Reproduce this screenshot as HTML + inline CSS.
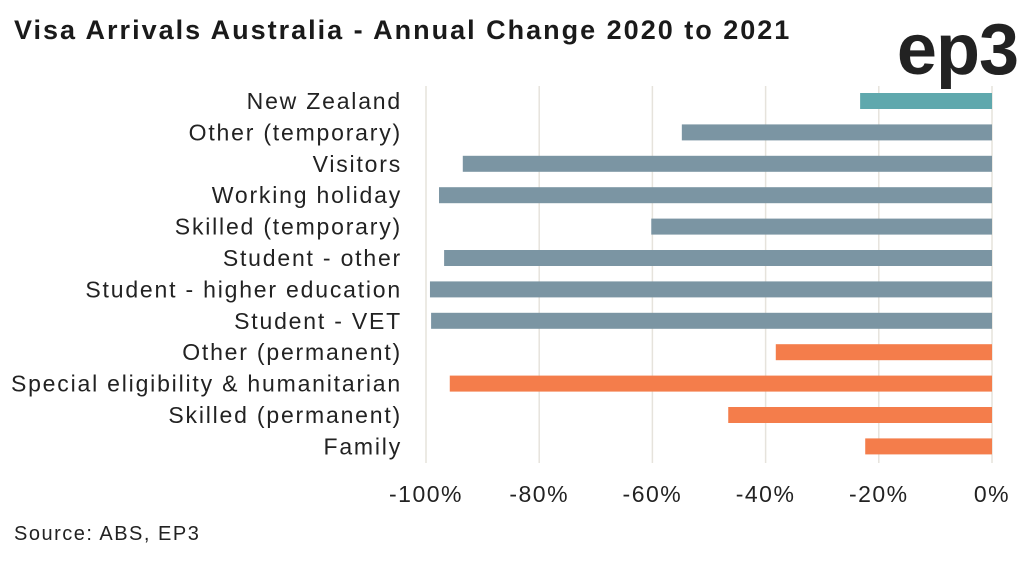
<!DOCTYPE html>
<html><head><meta charset="utf-8"><style>
body{margin:0;background:#fff;width:1025px;height:558px;overflow:hidden;font-family:"Liberation Sans",sans-serif;}
</style></head><body>
<svg width="1025" height="558">
<text x="14" y="39" font-size="27" font-weight="bold" letter-spacing="2" fill="#1a1a1a">Visa Arrivals Australia - Annual Change 2020 to 2021</text>
<text x="1018" y="74" text-anchor="end" font-size="72" font-weight="bold" fill="#222" letter-spacing="-1">ep3</text>
<g id="grid"></g><g id="bars"></g><g id="labels"></g><g id="ticks"></g>
<text x="14" y="540" font-size="20" letter-spacing="1.5" fill="#222">Source: ABS, EP3</text>
</svg>
<script>
const categories=["New Zealand","Other (temporary)","Visitors","Working holiday","Skilled (temporary)","Student - other","Student - higher education","Student - VET","Other (permanent)","Special eligibility & humanitarian","Skilled (permanent)","Family"];
const values=[-23.3,-54.8,-93.5,-97.7,-60.2,-96.8,-99.3,-99.1,-38.2,-95.8,-46.6,-22.4];
const groups=["nz","temp","temp","temp","temp","temp","temp","temp","perm","perm","perm","perm"];
const ticks=[-100,-80,-60,-40,-20,0];
const colors={nz:"#5fa8ad",temp:"#7b95a3",perm:"#f47d4b"};
const x=v=>992+v*5.66, y=i=>101+i*31.4;
const ns="http://www.w3.org/2000/svg";
function mk(t,a,p){const e=document.createElementNS(ns,t);for(const k in a)e.setAttribute(k,a[k]);document.getElementById(p).appendChild(e);return e;}
ticks.forEach(t=>{
 const l=mk("line",{x1:x(t),x2:x(t),y1:86,y2:463,stroke:"#e6e3dc","stroke-width":1.5},"grid");
 
 
 const tx=mk("text",{x:x(t),y:502,"text-anchor":"middle","font-size":23,"letter-spacing":1.5,fill:"#222"},"ticks");
 tx.textContent=t+"%";
 
 
});
categories.forEach((c,i)=>{
 const v=values[i];
 const r=mk("rect",{x:x(v),y:y(i)-8,width:x(0)-x(v),height:16,fill:colors[groups[i]]},"bars");
 
 
 const t=mk("text",{x:402,y:y(i)+8,"text-anchor":"end","font-size":23,"letter-spacing":1.8,fill:"#222"},"labels");
 t.textContent=c;
 
 
});
</script>
</body></html>
